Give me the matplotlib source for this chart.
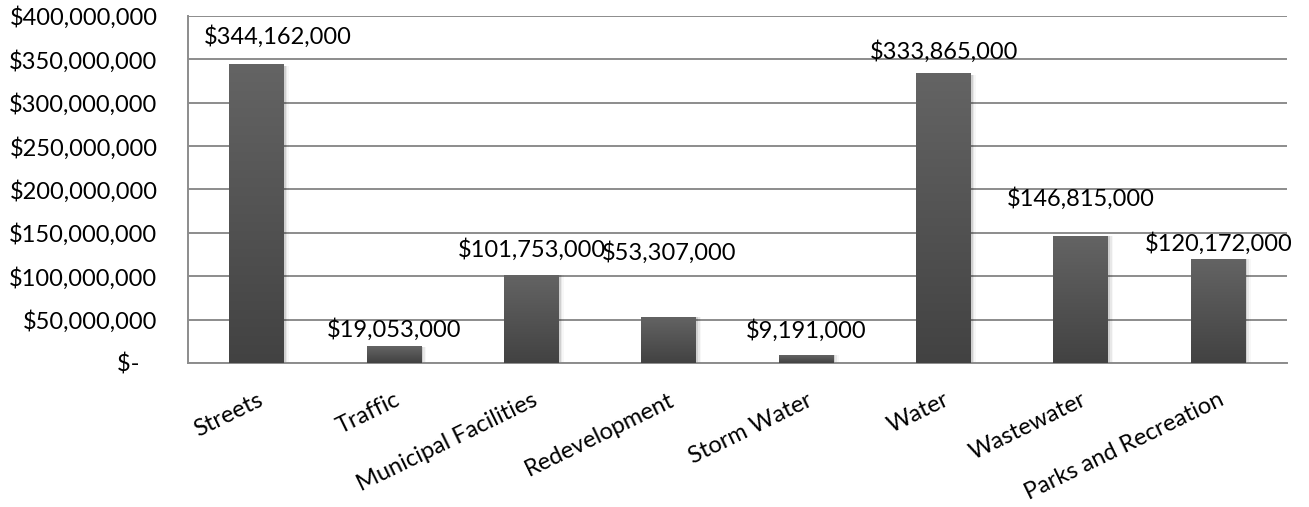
import numpy as np
import matplotlib
matplotlib.use("Agg")
import matplotlib.pyplot as plt
from matplotlib.colors import LinearSegmentedColormap

categories = ["Streets", "Traffic", "Municipal Facilities", "Redevelopment",
              "Storm Water", "Water", "Wastewater", "Parks and Recreation"]
values = [344162000, 19053000, 101753000, 53307000,
          9191000, 333865000, 146815000, 120172000]
y_ticks = [0, 50e6, 100e6, 150e6, 200e6, 250e6, 300e6, 350e6, 400e6]
y_tick_labels = ["$-   ", "$50,000,000", "$100,000,000", "$150,000,000",
                 "$200,000,000", "$250,000,000", "$300,000,000",
                 "$350,000,000", "$400,000,000"]

# label placement relative to the top of each bar (pixels)
label_dx = [21, 0, 0, 0, 0, 0, 0, 0]
label_dy = [28, 17, 25, 64, 25, 22, 37, 15]

FS = 17
plt.rcParams["font.family"] = ["Lato", "DejaVu Sans"]

fig = plt.figure(figsize=(13.09, 5.07), dpi=100)
ax = fig.add_axes([188 / 1309, 1 - 363 / 507, (1287 - 188) / 1309, 347 / 507])

x = np.arange(len(categories))
bars = ax.bar(x, values, width=0.4, color="none", edgecolor="none", zorder=3)

grad_cmap = LinearSegmentedColormap.from_list("barfill", ["#424242", "#646464"])
grad = np.linspace(0, 1, 256).reshape(-1, 1)
for b in bars:
    x0, w, h = b.get_x(), b.get_width(), b.get_height()
    # soft shadow on the right side
    for k, a in enumerate([0.10, 0.06, 0.03]):
        ax.add_patch(plt.Rectangle((x0 + w, 0), 0.012 * (k + 1), h * 0.995,
                                   facecolor="black", alpha=a, edgecolor="none",
                                   zorder=2))
    im = ax.imshow(grad, extent=[x0, x0 + w, 0, h], origin="lower",
                   cmap=grad_cmap, aspect="auto", zorder=3)
    im.set_clip_path(b)

for i, (b, v) in enumerate(zip(bars, values)):
    ax.annotate(f"${v:,.0f}", (b.get_x() + b.get_width() / 2, v),
                xytext=(label_dx[i], label_dy[i]), textcoords="offset pixels",
                ha="center", va="center", fontsize=FS, color="black", zorder=5)

ax.set_xlim(-0.5, len(categories) - 0.5)
ax.set_ylim(0, 400e6)
ax.set_yticks(y_ticks)
ax.set_yticklabels(y_tick_labels, fontsize=FS)
ax.set_xticks(x)
ax.set_xticklabels(categories, fontsize=FS, rotation=26, ha="right",
                   rotation_mode="anchor", va="top")
ax.tick_params(axis="x", length=0, pad=19)
ax.tick_params(axis="y", length=0, pad=22)

ax.grid(axis="y", color="#8c8c8c", linewidth=1.4, zorder=0)
ax.set_axisbelow(True)
for s in ["top", "right"]:
    ax.spines[s].set_visible(False)
ax.spines["left"].set_color("#8c8c8c")
ax.spines["left"].set_linewidth(1.4)
ax.spines["bottom"].set_color("#8c8c8c")
ax.spines["bottom"].set_linewidth(1.4)

fig.savefig("out.png", dpi=100, facecolor="white")
